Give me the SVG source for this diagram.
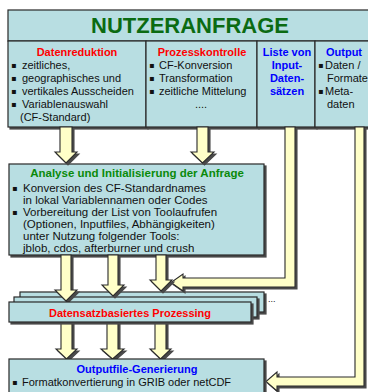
<svg xmlns="http://www.w3.org/2000/svg" width="368" height="392" viewBox="0 0 368 392">
<defs>
<filter id="sh" x="-10%" y="-10%" width="130%" height="130%">
<feDropShadow dx="2" dy="2" stdDeviation="0.4" flood-color="#4a4a4a" flood-opacity="1"/>
</filter>
<style>
.box{fill:#b8dee2;stroke:#2a2a2a;stroke-width:1.2;filter:url(#sh)}
.arr{fill:#ffffc8;stroke:#2a2a2a;stroke-width:1.1;stroke-linejoin:miter;filter:url(#sh)}
text{font-family:"Liberation Sans",Arial,"DejaVu Sans",sans-serif;font-size:11px;fill:#111}
.b{font-family:"DejaVu Sans","Liberation Sans",sans-serif;font-size:8px}
.red{fill:#ff0000;font-weight:bold}
.blue{fill:#0000ff;font-weight:bold}
.green{fill:#0a8a0a;font-weight:bold}
.mid{text-anchor:middle}
.an{font-size:11.5px}
</style>
</defs>

<g id="nutzeranfrage">
<rect class="box" x="8" y="10" width="364" height="31"/>
<text x="190" y="33" class="mid" style="font-size:22px;font-weight:bold;fill:#0b6b12">NUTZERANFRAGE</text>
</g>

<g id="datenreduktion">
<rect class="box" x="8" y="41" width="138" height="86"/>
<text x="77" y="56" class="mid red">Datenreduktion</text>
<text x="11" y="68" class="b">▪</text><text x="22" y="69">zeitliches,</text>
<text x="11" y="81" class="b">▪</text><text x="22" y="82">geographisches und</text>
<text x="11" y="94" class="b">▪</text><text x="22" y="95">vertikales Ausscheiden</text>
<text x="11" y="107" class="b">▪</text><text x="22" y="108">Variablenauswahl</text>
<text x="20" y="121">(CF-Standard)</text>
</g>

<g id="prozesskontrolle">
<rect class="box" x="146" y="41" width="111" height="86"/>
<text x="202" y="56" class="mid red">Prozesskontrolle</text>
<text x="149" y="68" class="b">▪</text><text x="159" y="69">CF-Konversion</text>
<text x="149" y="81" class="b">▪</text><text x="159" y="82">Transformation</text>
<text x="149" y="94" class="b">▪</text><text x="159" y="95">zeitliche Mittelung</text>
<text x="201" y="108" class="mid">....</text>
</g>

<g id="liste">
<rect class="box" x="257" y="41" width="58" height="86"/>
<text x="287" y="56" class="mid blue">Liste von</text>
<text x="287" y="69" class="mid blue">Input-</text>
<text x="287" y="82" class="mid blue">Daten-</text>
<text x="287" y="95" class="mid blue">sätzen</text>
</g>

<g id="output">
<rect class="box" x="315" y="41" width="57" height="86"/>
<text x="344" y="56" class="mid blue">Output</text>
<text x="318" y="68" class="b">▪</text><text x="325" y="69">Daten /</text>
<text x="327" y="82">Formate</text>
<text x="318" y="94" class="b">▪</text><text x="325" y="95">Meta-</text>
<text x="327" y="108">daten</text>
</g>

<g id="analyse">
<rect class="box" x="9" y="164" width="255" height="91"/>
<text x="137" y="177" class="mid green an">Analyse und Initialisierung der Anfrage</text>
<text x="12" y="191" class="b">▪</text><text x="23" y="192" class="an">Konversion des CF-Standardnames</text>
<text x="23" y="204" class="an">in lokal Variablennamen oder Codes</text>
<text x="12" y="215" class="b">▪</text><text x="23" y="216" class="an">Vorbereitung der List von Toolaufrufen</text>
<text x="23" y="228" class="an">(Optionen, Inputfiles, Abhängigkeiten)</text>
<text x="23" y="240" class="an">unter Nutzung folgender Tools:</text>
<text x="23" y="252" class="an">jblob, cdos, afterburner und crush</text>
</g>

<g id="prozessing-stack">
<rect class="box" x="20" y="292" width="244" height="20"/>
<rect class="box" x="14" y="297" width="243" height="20"/>
<text x="268" y="302" style="font-size:9px">...</text>
</g>

<g id="connectors">
<polygon class="arr" points="60,127 72,127 72,152 77,152 66,163 55,152 60,152"/>
<polygon class="arr" points="197,127 208,127 208,152 214,152 202.5,163 191,152 197,152"/>
<polygon class="arr" points="285,127 295,127 295,287 183,287 183,291 171,282.5 183,274 183,278 285,278"/>
<polygon class="arr" points="355,127 364,127 364,386 277,386 277,391 266,381.5 277,372 277,377 355,377"/>
<polygon class="arr" points="61,255 71,255 71,290 77,290 66,301 55,290 61,290"/>
<polygon class="arr" points="108,255 118,255 118,285 124,285 113,296 102,285 108,285"/>
<polygon class="arr" points="156,255 166,255 166,280 172,280 161,291 150,280 156,280"/>
<polygon class="arr" points="61,322 72,322 72,349 77,349 66.5,359 56,349 61,349"/>
<polygon class="arr" points="107,322 118,322 118,349 124,349 112.5,359 101,349 107,349"/>
<polygon class="arr" points="155,322 166,322 166,349 171,349 160.5,359 150,349 155,349"/>
</g>

<g id="prozessing">
<rect class="box" x="9" y="302" width="242" height="20"/>
<text x="130" y="317" class="mid red">Datensatzbasiertes Prozessing</text>
</g>

<g id="outputfile">
<rect class="box" x="9" y="359" width="255" height="36"/>
<text x="137" y="373" class="mid blue">Outputfile-Generierung</text>
<text x="12" y="385" class="b">▪</text><text x="22" y="386">Formatkonvertierung in GRIB oder netCDF</text>
</g>
</svg>
